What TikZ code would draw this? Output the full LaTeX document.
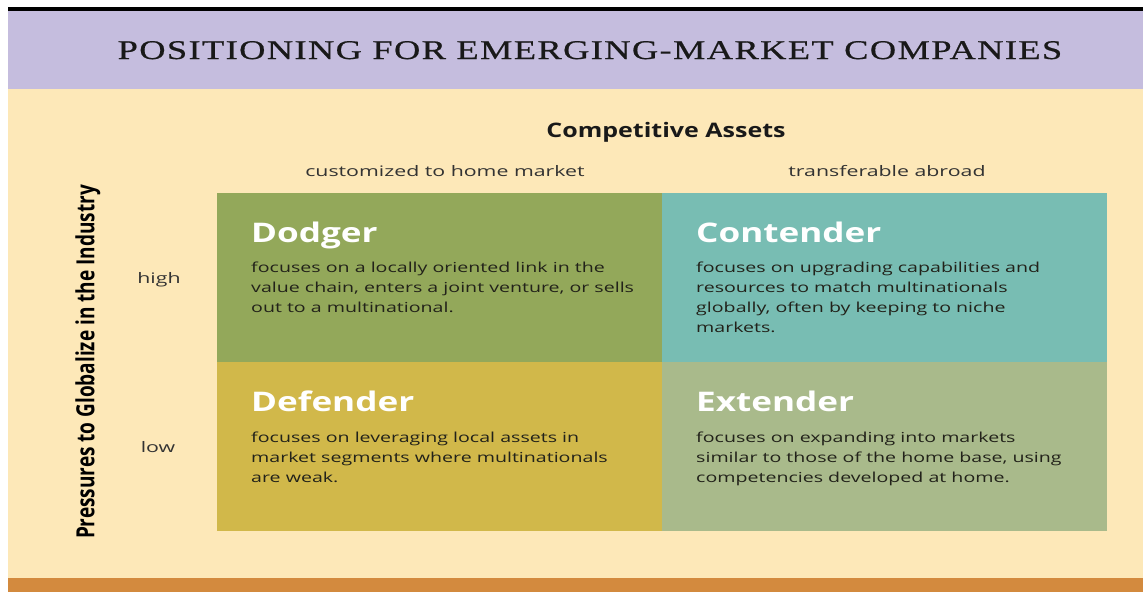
\documentclass[tikz,border=0pt]{standalone}
\usepackage{fontspec}
\setmainfont{Open Sans}
\newfontfamily\titlefont[LetterSpace=5,FakeStretch=1.35,FakeBold=0.6]{Liberation Serif}
\newfontfamily\widesans[FakeStretch=1.42]{Open Sans}
\newfontfamily\labelsans[FakeStretch=1.47]{Open Sans}
\newfontfamily\headsans[FakeStretch=1.25]{Open Sans}
\newfontfamily\quadsans[FakeStretch=1.3]{Open Sans}
\newfontfamily\narrowsans[FakeStretch=0.76]{Open Sans}
\definecolor{purpleband}{HTML}{C5BDDE}
\definecolor{cream}{HTML}{FDE8B8}
\definecolor{orangeband}{HTML}{D38A3E}
\definecolor{dodgerc}{HTML}{93A85A}
\definecolor{contenderc}{HTML}{78BDB3}
\definecolor{defenderc}{HTML}{D1B84A}
\definecolor{extenderc}{HTML}{A9BA8B}
\definecolor{bodytext}{HTML}{22221A}
\begin{document}
\begin{tikzpicture}[x=1pt,y=-1pt,
  quad/.style={anchor=north west, minimum width=445pt, minimum height=169pt, inner sep=0pt, draw=none},
  qtitle/.style={anchor=base west, inner sep=0pt, text=white, font=\quadsans\fontsize{27}{27}\selectfont\bfseries},
  qbody/.style={anchor=base west, inner sep=0pt, text=bodytext, align=left, font=\widesans\fontsize{13.8}{20}\selectfont},
  axislabel/.style={anchor=base, inner sep=0pt, text=black!80, font=\labelsans\fontsize{14.5}{18}\selectfont}]
\useasboundingbox (0,0) rectangle (1143,592);
\fill[white] (0,0) rectangle (1143,592);
\fill[black] (8,7) rectangle (1143,10.5);
\fill[purpleband] (8,10.5) rectangle (1143,89);
\fill[cream] (8,89) rectangle (1143,578);
\fill[orangeband] (8,578) rectangle (1143,592);
\node[anchor=base, inner sep=0pt, font=\titlefont\fontsize{27}{27}\selectfont, text=black!90] (title) at (590,59) {POSITIONING FOR EMERGING-MARKET COMPANIES};
\node[anchor=base, inner sep=0pt, font=\headsans\fontsize{20}{20}\selectfont\bfseries, text=black!90] (ca) at (666,137) {Competitive Assets};
\node[axislabel] (cust) at (445,176) {customized to home market};
\node[axislabel] (trans) at (887,176) {transferable abroad};
\node[axislabel] (high) at (159,283) {high};
\node[axislabel] (low) at (158,452) {low};
\node[rotate=90, inner sep=0pt, font=\narrowsans\fontsize{25}{25}\selectfont\bfseries, text=black] (press) at (88,362) {Pressures to Globalize in the Industry};
\node[quad, fill=dodgerc] (dodger) at (217,193) {};
\node[quad, fill=contenderc] (contender) at (662,193) {};
\node[quad, fill=defenderc] (defender) at (217,362) {};
\node[quad, fill=extenderc] (extender) at (662,362) {};
\node[qtitle] (dt) at (251,242) {Dodger};
\node[qbody] (db) at (251,312) {focuses on a locally oriented link in the\\value chain, enters a joint venture, or sells\\out to a multinational.};
\node[qtitle] (ct) at (696,242) {Contender};
\node[qbody] (cb) at (696,332) {focuses on upgrading capabilities and\\resources to match multinationals\\globally, often by keeping to niche\\markets.};
\node[qtitle] (ft) at (251,411) {Defender};
\node[qbody] (fb) at (251,482) {focuses on leveraging local assets in\\market segments where multinationals\\are weak.};
\node[qtitle] (et) at (696,411) {Extender};
\node[qbody] (eb) at (696,482) {focuses on expanding into markets\\similar to those of the home base, using\\competencies developed at home.};
\end{tikzpicture}
\end{document}
